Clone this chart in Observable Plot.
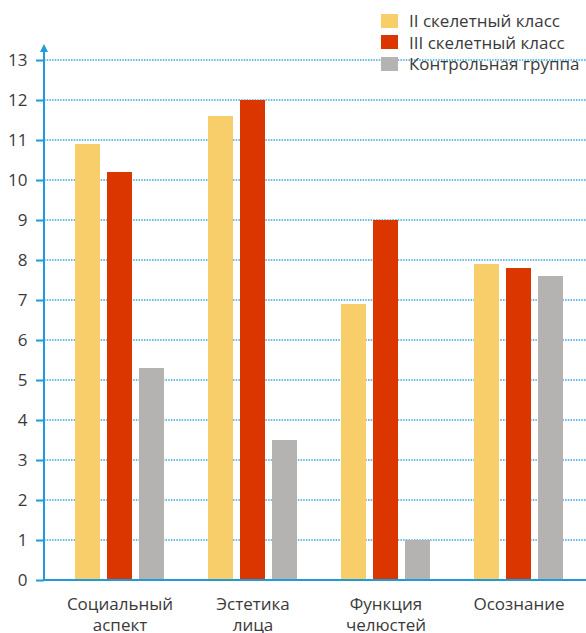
<!DOCTYPE html>
<html><head><meta charset="utf-8">
<script src="https://cdn.jsdelivr.net/npm/d3@7"></script>
<script src="https://cdn.jsdelivr.net/npm/@observablehq/plot@0.6"></script>
<style>
body{margin:0;background:#fff;font-family:"Open Sans",sans-serif;}
#wrap{position:relative;width:586px;height:633px;}
#wrap svg{position:absolute;left:0;top:0;}
#legend{position:absolute;left:381px;top:10px;z-index:2;}
.row{display:flex;align-items:center;height:21.5px;font-size:17px;color:#3a3a3a;white-space:nowrap;}
.sw{width:17px;height:14px;margin-right:11px;}
</style></head><body><div id="wrap"><div id="legend"></div></div>
<script>
const categories = ["Социальный аспект", "Эстетика лица", "Функция челюстей", "Осознание"];
const categoryLabels = ["Социальный\nаспект", "Эстетика\nлица", "Функция\nчелюстей", "Осознание"];
const series = ["II скелетный класс", "III скелетный класс", "Контрольная группа"];
const colors = ["#f8ce6a", "#dc3600", "#b5b3b1"];
const valuesII = [10.9, 11.6, 6.9, 7.9];
const valuesIII = [10.2, 12.0, 9.0, 7.8];
const valuesControl = [5.3, 3.5, 1.0, 7.6];
const yTicks = [0, 1, 2, 3, 4, 5, 6, 7, 8, 9, 10, 11, 12, 13];

const blue = "#1f9bd7";
const data = [];
[valuesII, valuesIII, valuesControl].forEach((vals, si) =>
  vals.forEach((v, ci) => data.push({category: categories[ci], series: series[si], value: v})));

const plot = Plot.plot({
  width: 586, height: 633,
  marginLeft: 44, marginRight: 1, marginTop: 60, marginBottom: 53,
  style: {fontFamily: "'Open Sans', sans-serif", fontSize: "17px", color: "#3a3a3a", background: "transparent"},
  fx: {domain: categories, paddingInner: 0, paddingOuter: 9 / 266, align: 1, label: null},
  x: {domain: series, paddingInner: 7 / 32, paddingOuter: 0.6875, axis: null},
  y: {domain: [0, 13], axis: null},
  color: {domain: series, range: colors},
  marks: [
    Plot.barY(data, {fx: "category", x: "series", y: "value", fill: "series"}),
    Plot.axisY({ticks: yTicks, tickSize: 8, tickPadding: 9, dx: -9, stroke: blue, strokeWidth: 2, strokeOpacity: 1, fill: "#3a3a3a", fontSize: 17, tickFormat: d => d, label: null}),
    Plot.axisFx({anchor: "bottom", tickSize: 0, tickPadding: 14, label: null, fontSize: 17, lineHeight: 1.25, fill: "#3a3a3a",
      tickFormat: c => categoryLabels[categories.indexOf(c)]})
  ]
});

// grid, baseline and vertical axis arrow, positioned via the y scale
const y = plot.scale("y");
const svg = d3.select(plot);
const ax = 44, right = 586;
const grid = svg.insert("g", ":first-child");
yTicks.filter(t => t > 0).forEach(t => {
  grid.append("line").attr("x1", ax).attr("x2", right).attr("y1", y.apply(t)).attr("y2", y.apply(t))
    .attr("stroke", blue).attr("stroke-width", 1.5).attr("stroke-dasharray", "1.5,1.2").attr("stroke-opacity", 0.9);
});
const y0 = y.apply(0), yTop = y.apply(13) - 16;
svg.append("line").attr("x1", ax).attr("x2", right).attr("y1", y0).attr("y2", y0)
  .attr("stroke", blue).attr("stroke-width", 2);
svg.append("line").attr("x1", ax).attr("x2", ax).attr("y1", y0 + 1).attr("y2", yTop + 6)
  .attr("stroke", blue).attr("stroke-width", 2);
svg.append("path").attr("d", `M${ax - 4},${yTop + 8}L${ax},${yTop}L${ax + 4},${yTop + 8}Z`).attr("fill", blue);

document.getElementById("wrap").appendChild(plot);

const legend = document.getElementById("legend");
series.forEach((s, i) => {
  const row = document.createElement("div");
  row.className = "row";
  row.innerHTML = `<div class="sw" style="background:${colors[i]}"></div><span>${s}</span>`;
  legend.appendChild(row);
});
</script></body></html>
